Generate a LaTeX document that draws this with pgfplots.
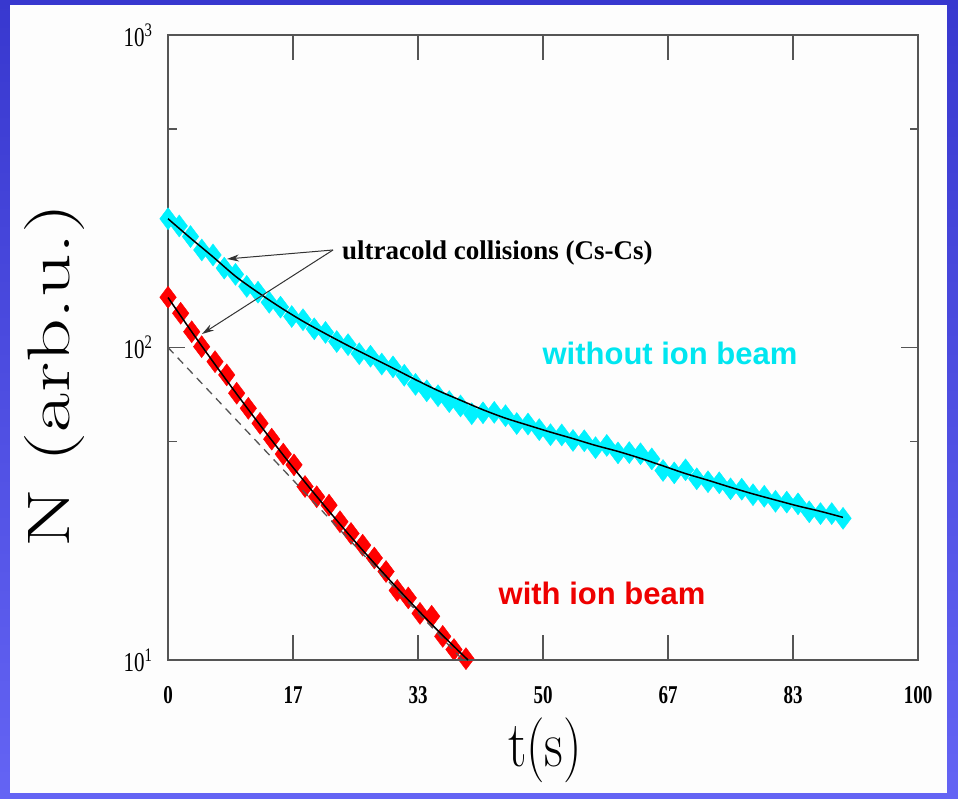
\documentclass[border=0pt]{standalone}
\usepackage{fontspec}
\usepackage{pgfplots}
\pgfplotsset{compat=1.18}
\usetikzlibrary{arrows.meta}
\newfontfamily\timesf{Liberation Serif}
\newfontfamily\arialf{Liberation Sans}
\definecolor{bgtop}{HTML}{3838CF}
\definecolor{bgbot}{HTML}{6464F4}
\definecolor{panel}{HTML}{FDFDFD}
\definecolor{framegray}{HTML}{555555}
\definecolor{cyanmark}{HTML}{00F2FF}
\definecolor{cyantext}{HTML}{00E6F0}
\definecolor{redmark}{HTML}{FF0000}
\definecolor{redtext}{HTML}{EE0000}
\begin{document}
\begin{tikzpicture}[x=1pt,y=1pt]
\shade[top color=bgtop,bottom color=bgbot] (0,0) rectangle (958,799);
\fill[panel] (10,6) rectangle (947,794);
\useasboundingbox (0,0) rectangle (958,799);
% main axis: frame, y ticks, data markers
\begin{axis}[
  at={(168pt,139pt)}, anchor=south west,
  scale only axis, width=750pt, height=625pt,
  xmin=0, xmax=100, ymode=log, log basis y=10, ymin=10, ymax=1000,
  clip=false,
  axis line style={framegray, line width=1.6pt},
  tick style={framegray, line width=1.3pt},
  tick align=inside,
  major tick length=17pt, minor tick length=8.5pt,
  xtick=\empty,
  ytick={10,100,1000},
  yticklabels={10\textsuperscript{1},10\textsuperscript{2},10\textsuperscript{3}},
  minor ytick={50,500},
  yticklabel style={font=\timesf\fontsize{21}{21}\selectfont, yscale=1.3, xshift=-12pt},
]
\addplot[only marks, mark=diamond*, mark size=11pt, color=cyanmark, mark options={draw=cyanmark, fill=cyanmark}] coordinates {
(0,258.2) (1.5,244.9) (3,226.5) (4.5,205.1) (6,197.7) (7.5,179.5) (9,171.4) (10.5,156.9) (12,150.3) (13.5,139.5)
(15,134.6) (16.5,125.6) (18,122.7) (19.5,114.8) (21,111.7) (22.5,104.5) (24,102.1) (25.5,95.5) (27,93.8) (28.5,88.5)
(30,86.7) (31.5,81.5) (33,76.2) (34.5,72.7) (36,70.1) (37.5,67.1) (39,65.0) (40.5,61.4) (42,61.8) (43.5,62.0)
(45,60.5) (46.5,57.1) (48,56.9) (49.5,54.6) (51,52.6) (52.5,52.5) (54,50.4) (55.5,50.3) (57,47.8) (58.5,48.6)
(60,46.0) (61.5,46.1) (63,45.7) (64.5,44.0) (66,40.4) (67.5,39.7) (69,40.6) (70.5,38.0) (72,37.2) (73.5,36.9)
(75,35.3) (76.5,35.2) (78,33.8) (79.5,33.4) (81,32.2) (82.5,32.0) (84,31.6) (85.5,29.8) (87,29.4) (88.5,29.4) (90,28.4)
};
\addplot[only marks, mark=diamond*, mark size=11pt, color=redmark, mark options={draw=redmark, fill=redmark}] coordinates {
(0,144.8) (1.69,128.7) (3.16,112.3) (4.49,100.6) (6.27,90.1) (7.83,81.7) (9.16,71.4) (10.71,63.9) (12.27,57.2)
(13.83,50.9) (15.37,45.6) (16.8,42.1) (18.27,35.9) (19.83,33.3) (21.47,31.3) (22.93,27.7) (24.4,25.4) (25.96,23.3)
(27.51,21.2) (29.07,19.2) (30.56,16.7) (32.04,15.8) (33.6,14.1) (35.16,13.8) (36.63,11.9) (38.13,10.8) (39.73,10.1)
};
\end{axis}
% overlay axis: x ticks and fit lines on top of the markers
\begin{axis}[
  at={(168pt,139pt)}, anchor=south west,
  scale only axis, width=750pt, height=625pt,
  xmin=0, xmax=100, ymode=log, ymin=10, ymax=1000,
  clip=false,
  hide y axis,
  axis line style={framegray, line width=1.6pt},
  tick style={framegray, line width=1.3pt},
  tick align=inside,
  major tick length=25pt,
  xtick={0,16.6667,33.3333,50,66.6667,83.3333,100},
  xticklabels={0,17,33,50,67,83,100},
  xticklabel style={font=\timesf\bfseries\fontsize{19}{19}\selectfont, yscale=1.35, yshift=-16pt},
]
\addplot[black, line width=1.5pt, smooth] coordinates {
(0,258.2) (3,223.9) (6,195.0) (9,169.0) (12,150.0) (15,134.3) (18,121.3) (21,110.7) (24,101.4) (27,93.3)
(30,85.9) (33,78.9) (36,72.8) (39,67.8) (42,63.2) (45,59.4) (48,56.4) (51,53.6) (54,51.1) (57,48.6)
(60,46.5) (63,44.2) (66,41.8) (69,39.5) (72,37.6) (75,35.7) (78,34.0) (81,32.5) (84,31.1) (87,29.9) (90,28.6)
};
\addplot[black, line width=1.5pt, smooth] coordinates {
(0,144.5) (4,105.1) (8,77.4) (12,57.6) (16,43.3) (20,33.0) (24,25.4) (28,19.8) (32,15.6) (36,12.4) (40,10.0)
};
\addplot[framegray, line width=1.3pt, dash pattern=on 8pt off 6pt] coordinates {(0,100) (39.3,10)};
\end{axis}
% annotations
\draw[black!80, line width=1pt, -{Stealth[length=12pt,width=7pt]}] (333,549) -- (227,540);
\draw[black!80, line width=1pt, -{Stealth[length=12pt,width=7pt]}] (333,549) -- (202,465);
\node[anchor=west, font=\timesf\bfseries\fontsize{27}{27}\selectfont, inner sep=0pt] at (342,546) {ultracold collisions (Cs-Cs)};
\node[font=\arialf\bfseries\fontsize{31}{31}\selectfont, text=cyantext, inner sep=0pt] at (670,446) {without ion beam};
\node[font=\arialf\bfseries\fontsize{31}{31}\selectfont, text=redtext, inner sep=0pt] at (602,206) {with ion beam};
% axis labels
\node[font=\fontsize{52}{52}\selectfont, yscale=1.25, inner sep=0pt] at (545,49) {t(s)};
\node[font=\fontsize{60}{60}\selectfont, rotate=90, inner sep=0pt] at (55,424) {\scalebox{1.42}[1]{N (arb.u.)}};
\end{tikzpicture}
\end{document}
